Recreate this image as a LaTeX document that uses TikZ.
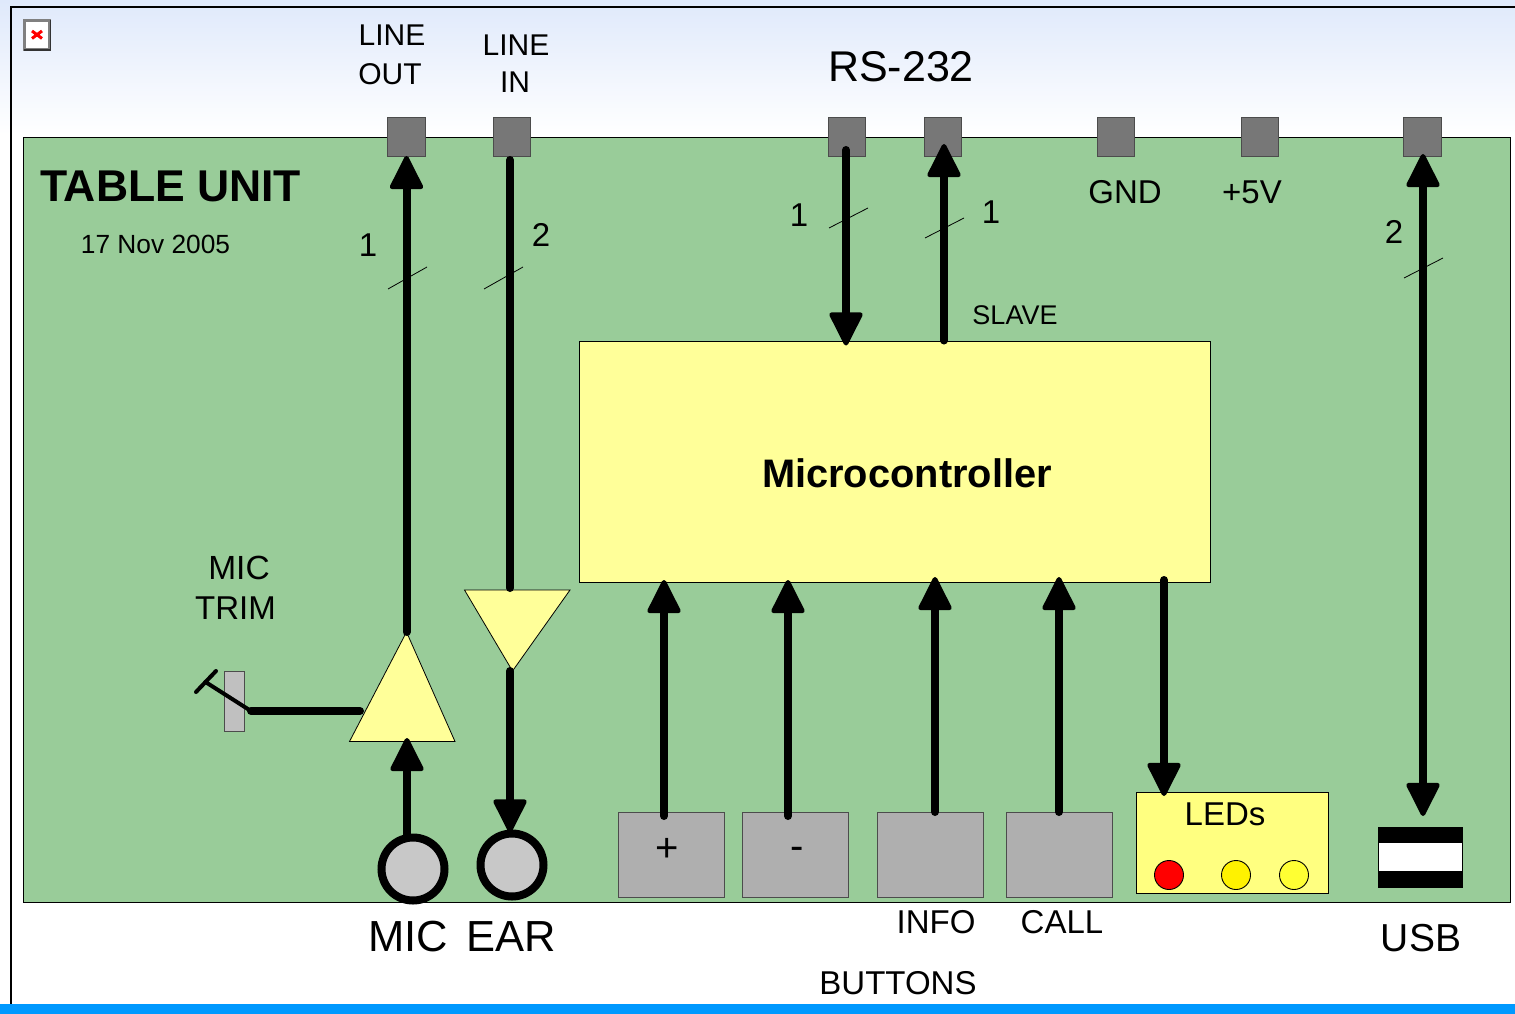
\documentclass[tikz,border=0pt]{standalone}
\usepackage{fontspec}
\setmainfont{Liberation Sans}
\usetikzlibrary{arrows.meta,calc}
\definecolor{board}{HTML}{99CC99}
\definecolor{paleY}{HTML}{FFFF99}
\definecolor{ledY}{HTML}{FFFF80}
\definecolor{portG}{HTML}{777777}
\definecolor{btnG}{HTML}{AFAFAF}
\definecolor{trimG}{HTML}{C0C0C0}
\definecolor{jackG}{HTML}{C8C8C8}
\definecolor{skyT}{HTML}{DFE9FB}
\definecolor{barB}{HTML}{0099FF}
\tikzset{
  box/.style={draw=black!70,line width=0.8pt,inner sep=0pt,outer sep=0pt},
  port/.style={box,fill=portG,minimum width=37.5pt,minimum height=39pt},
  btn/.style={box,fill=btnG,minimum width=106pt,minimum height=85pt},
  sig/.style={line width=8pt,line cap=round,line join=round},
  bighead/.tip={Triangle[length=36pt,width=35pt,round,line width=4.5pt]},
  tipend/.style={sig,-bighead},
  tipboth/.style={sig,bighead-bighead},
  tick/.style={draw=black,line width=0.8pt},
  jack/.style={circle,draw=black,line width=8pt,fill=jackG,minimum size=63pt,inner sep=0pt,outer sep=0pt},
  led/.style={circle,draw=black,line width=0.9pt,minimum size=29pt,inner sep=0pt,outer sep=0pt},
  lab/.style={inner sep=0pt,outer sep=0pt,align=center},
  amp/.style={draw=black,line width=0.8pt,fill=paleY,line join=miter},
}
\newcommand{\fsz}[1]{\fontsize{#1}{#1}\selectfont}
\begin{document}
\begin{tikzpicture}[x=1pt,y=-1pt]
\useasboundingbox (0,0) rectangle (1515,1014);
% background
\fill[white] (0,0) rectangle (1515,1014);
\shade[top color=skyT,bottom color=white] (0,0) rectangle (1515,135);
\fill[barB] (0,1004) rectangle (1515,1014);
\draw[black,line width=2pt] (1515,7) -- (11,7) -- (11,1004);
% broken image icon
\node[draw=black!50,line width=2.4pt,fill=white,minimum width=25pt,minimum height=29pt,inner sep=0pt] (icon) at (37,35) {};
\draw[black!80,line width=1.2pt] (23.5,50) -- (50.5,50) -- (50.5,20);
\draw[red,line width=3pt] (32,31) -- (42,38.5) (42,31) -- (32,38.5);
% board
\node[draw=black,line width=0.8pt,fill=board,minimum width=1487pt,minimum height=765pt,inner sep=0pt,outer sep=0pt] (boardbox) at (766.5,520) {};
% ports
\node[port] (lineout) at (406.5,136.5) {};
\node[port] (linein) at (512,136.5) {};
\node[port] (rsa) at (847,136.5) {};
\node[port] (rsb) at (943,136.5) {};
\node[port] (gnd) at (1116,136.5) {};
\node[port] (vcc) at (1260,136.5) {};
\node[port] (usbport) at (1422.5,136.5) {};
% mcu
\node[box,draw=black,fill=paleY,minimum width=630.5pt,minimum height=241pt] (mcu) at (895,462) {};
\node[lab,font=\fsz{39.8}\bfseries] (mcutext) at (907,473) {Microcontroller};
% amplifiers
\coordinate (ampuptip) at (406.5,632);
\coordinate (ampupbase) at (406.5,741);
\coordinate (ampdntip) at (512.5,671);
\coordinate (ampdnbase) at (512,590);
\draw[amp] (ampuptip) -- (455,741.5) -- (349.5,741.5) -- cycle;
\draw[amp] (464.5,590) -- (570,590) -- (ampdntip) -- cycle;
% trim
\node[box,fill=trimG,minimum width=20pt,minimum height=60pt] (trim) at (234,701) {};
\coordinate (wipera) at (196,692);
\coordinate (wiperb) at (216,671);
\coordinate (wiperc) at (205.5,682);
\coordinate (wiperd) at (251,711);
\coordinate (ampctl) at (360,711);
\draw[line width=4pt,line cap=round] (wipera) -- (wiperb);
\draw[line width=4pt,line cap=round] (wiperc) -- (wiperd);
\draw[sig] (wiperd) -- (ampctl);
% buttons
\node[btn] (plus) at (671,854.5) {};
\node[btn] (minus) at (795,854.5) {};
\node[btn] (info) at (930,854.5) {};
\node[btn] (call) at (1059,854.5) {};
% LEDs
\node[box,draw=black,fill=ledY,minimum width=192pt,minimum height=101pt] (leds) at (1232,842.5) {};
\node[led,fill=red] (leda) at (1169,875) {};
\node[led,fill=yellow] (ledb) at (1236,875) {};
\node[led,fill={rgb,255:red,255;green,255;blue,51}] (ledc) at (1294,875) {};
% USB
\node[fill=black,minimum width=85pt,minimum height=61pt,inner sep=0pt,outer sep=0pt] (usb) at (1420.5,857.5) {};
\node[fill=white,minimum width=83pt,minimum height=28pt,inner sep=0pt,outer sep=0pt] (usbw) at (1420.5,857) {};
% jacks
\node[jack] (mic) at (413,869) {};
\node[jack] (ear) at (512,865) {};
% connectors
\draw[tipend] (ampuptip) -- (lineout.south);
\draw[sig] ($(linein.south)+(-2,4)$) -- ($(ampdnbase)+(-2,-2)$);
\draw[tipend] ($(ampdntip)+(-2.5,0)$) -- ($(ear.north)+(-2,-1)$);
\draw[tipend] (407,835) -- ($(ampupbase)+(0.5,-3)$);
\draw[tipend] ($(rsa.south)+(-1,-6)$) -- ($(rsa.south |- mcu.north)+(-1,4)$);
\draw[tipend] ($(rsb.south |- mcu.north)+(1,-1)$) -- ($(rsb.north)+(1,27)$);
\draw[tipend] (664,816) -- (664,580);
\draw[tipend] (788,816) -- (788,580);
\draw[tipend] (935,812) -- (935,577);
\draw[tipend] (1059,812) -- (1059,577);
\draw[tipend] (1164,580) -- (1164,796);
\draw[tipboth] (1423,816) -- (1423,154);
% ticks
\draw[tick] (388,289) -- (427,267);
\draw[tick] (484,289) -- (523,267);
\draw[tick] (829,228) -- (868,208);
\draw[tick] (925,238) -- (964,218);
\draw[tick] (1404,278) -- (1443,258);
% labels
\node[lab,font=\fsz{30}] (t1) at (392,35.5) {LINE};
\node[lab,font=\fsz{30}] (t2) at (390,74) {OUT};
\node[lab,font=\fsz{30}] (t3) at (516,45) {LINE};
\node[lab,font=\fsz{30}] (t4) at (515,82) {IN};
\node[lab,font=\fsz{43}] (t5) at (901,66.5) {RS-232};
\node[lab,font=\fsz{33}] (t6) at (1125,192) {GND};
\node[lab,font=\fsz{33}] (t7) at (1252,192) {+5V};
\node[lab,anchor=west,font=\fsz{44.5}\bfseries] (t8) at (40,186) {TABLE UNIT};
\node[lab,font=\fsz{26.3}] (t9) at (155.5,244) {17 Nov 2005};
\node[lab,font=\fsz{33}] (n1) at (368,245) {1};
\node[lab,font=\fsz{33}] (n2) at (541,235) {2};
\node[lab,font=\fsz{33}] (n3) at (799,215) {1};
\node[lab,font=\fsz{33}] (n4) at (991,212) {1};
\node[lab,font=\fsz{33}] (n5) at (1394,232) {2};
\node[lab,font=\fsz{27}] (t10) at (1015,315) {SLAVE};
\node[lab,font=\fsz{33.5}] (t11) at (239,568) {MIC};
\node[lab,font=\fsz{33}] (t12) at (235.5,608.5) {TRIM};
\node[lab,font=\fsz{40}] (t13) at (667.5,850) {+};
\node[lab,font=\fsz{40}] (t14) at (797,853) {-};
\node[lab,font=\fsz{33}] (t15) at (1225,814) {LEDs};
\node[lab,font=\fsz{43.5}] (t16) at (408,937) {MIC};
\node[lab,font=\fsz{43.5}] (t17) at (511,937) {EAR};
\node[lab,font=\fsz{33}] (t18) at (936,922.5) {INFO};
\node[lab,font=\fsz{33}] (t19) at (1062,922.5) {CALL};
\node[lab,font=\fsz{33}] (t20) at (898,983.5) {BUTTONS};
\node[lab,font=\fsz{39}] (t21) at (1421,938.5) {USB};
\end{tikzpicture}
\end{document}
